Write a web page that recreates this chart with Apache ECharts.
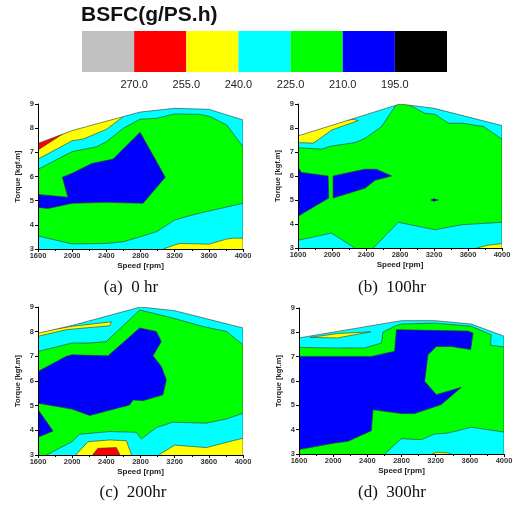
<!DOCTYPE html>
<html><head><meta charset="utf-8">
<script src="https://cdn.jsdelivr.net/npm/echarts@6/dist/echarts.min.js"></script>
<style>html,body{margin:0;padding:0;background:#fff}#c{width:513px;height:505px}</style>
</head><body><div id="c"></div>
<script>
// ---- legend ----
const LEG_COLORS = ['#c0c0c0', '#ff0000', '#ffff00', '#00ffff', '#00ff00', '#0000ff', '#000000'];
const LEG_TICKS = ['270.0', '255.0', '240.0', '225.0', '210.0', '195.0'];
const SPEED_TICKS = [1600, 2000, 2400, 2800, 3200, 3600, 4000];
const TORQUE_TICKS = [3, 4, 5, 6, 7, 8, 9];
const CAPTIONS = ['(a)  0 hr', '(b)  100hr', '(c)  200hr', '(d)  300hr'];

// ---- (a) 0 hr : contour boundaries [speed rpm, torque kgf.m] ----
const A_TOP = [[1600,7.37],[2000,7.9],[2600,8.48],[2800,8.67],[3200,8.82],[3600,8.78],[4000,8.34]];
const A_GREEN = [[1500,6.3],[1600,6.3],[2000,7.03],[2285,7.23],[2400,7.44],[2600,8.0],[2795,8.37],[2990,8.41],[3200,8.59],[3500,8.57],[3615,8.48],[3810,8.13],[4000,7.23],[4100,7.23],[4100,4.89],[4000,4.89],[3600,4.57],[3400,4.4],[3200,4.2],[2990,3.72],[2800,3.51],[2600,3.3],[2400,3.23],[2000,3.21],[1600,3.54],[1500,3.54]];
const A_BLUE = [[1500,5.26],[1600,5.26],[1950,5.14],[1885,5.97],[2000,6.13],[2230,6.54],[2480,6.72],[2795,7.83],[3090,5.97],[2830,4.89],[2400,4.93],[2000,4.89],[1720,4.68],[1600,4.72],[1500,4.72]];
const A_YELLOW_TOP = [[1500,6.72],[1600,6.72],[2000,7.48],[2130,7.55],[2400,7.95],[2600,8.48],[2650,9.6],[1500,9.6]];
const A_RED = [[1500,7.1],[1600,7.1],[1935,7.86],[1935,9.6],[1500,9.6]];
const A_YELLOW_BOT = [[3068,2.9],[3068,3.0],[3200,3.17],[3260,3.23],[3600,3.2],[3820,3.42],[3900,3.45],[4100,3.45],[4100,2.9]];

// ---- (b) 100 hr ----
const B_TOP = [[1600,7.67],[2800,9.0],[3200,8.82],[4000,8.1]];
const B_GREEN = [[1500,7.18],[1600,7.18],[1875,7.12],[1993,7.25],[2270,7.39],[2390,7.57],[2583,8.06],[2780,9.1],[2830,9.1],[3095,8.61],[3213,8.57],[3370,8.2],[3528,8.2],[3783,8.06],[4000,7.53],[4100,7.53],[4100,4.07],[4000,4.07],[3528,3.97],[3213,3.76],[2780,4.07],[2485,3.0],[2485,2.9],[2269,2.9],[2269,3.0],[1993,3.62],[1600,3.32],[1500,3.32]];
const B_BLUE_1 = [[1500,6.37],[1600,6.37],[1640,6.15],[1954,6.0],[1962,5.08],[1600,4.32],[1500,4.32]];
const B_BLUE_2 = [[2013,6.0],[2300,6.22],[2387,6.28],[2524,6.28],[2701,6.0],[2505,5.82],[2387,5.49],[2013,5.08]];
const B_BLUE_3 = [[3160,5.0],[3200,5.05],[3250,5.0],[3200,4.95]];
const B_YELLOW_TOP = [[1500,7.39],[1600,7.39],[1780,7.37],[2000,7.92],[2310,8.31],[2250,8.36],[2000,8.25],[1500,8.25]];
const B_YELLOW_BOT = [[3700,2.9],[3700,3.0],[3840,3.12],[4000,3.18],[4100,3.18],[4100,2.9]];

// ---- (c) 200 hr ----
const C_TOP = [[1600,7.94],[2000,8.25],[2800,9.0],[3200,8.85],[3600,8.5],[4000,8.15]];
const C_GREEN = [[1500,7.2],[1600,7.2],[2000,7.54],[2205,7.54],[2400,7.6],[2790,8.88],[3180,8.55],[3531,8.21],[3805,8.01],[4000,7.47],[4100,7.47],[4100,4.69],[4000,4.69],[3805,4.46],[3570,4.29],[3180,4.33],[2985,4.11],[2810,3.65],[2751,3.92],[2439,3.95],[2088,3.84],[1998,3.54],[1700,3.0],[1700,2.9],[1500,2.9]];
const C_BLUE_1 = [[1500,6.39],[1600,6.39],[1932,7.0],[1998,7.06],[2420,7.02],[2790,8.15],[2985,8.01],[3044,7.6],[2946,7.02],[3044,6.59],[3102,6.05],[3063,5.44],[2829,5.2],[2712,5.23],[2673,5.03],[2205,4.6],[1998,4.86],[1600,5.1],[1500,5.1]];
const C_BLUE_2 = [[1500,4.84],[1600,4.84],[1776,3.97],[1600,3.72],[1500,3.72]];
const C_YELLOW_TOP = [[1500,7.81],[1600,7.81],[1930,8.08],[2440,8.24],[2460,8.4],[2000,8.22],[1600,7.98],[1500,7.98]];
const C_YELLOW_BOT1 = [[2049,2.9],[2049,3.03],[2185,3.54],[2439,3.61],[2634,3.58],[2693,3.03],[2693,2.9]];
const C_RED = [[2244,2.9],[2244,3.03],[2302,3.27],[2517,3.3],[2556,3.03],[2556,2.9]];
const C_YELLOW_BOT2 = [[3024,2.9],[3024,3.03],[3200,3.4],[3570,3.3],[3805,3.51],[4000,3.68],[4100,3.68],[4100,2.9]];

// ---- (d) 300 hr ----
const D_TOP = [[1600,7.77],[2800,8.48],[3190,8.48],[3617,8.34],[4000,7.84]];
const D_GREEN = [[1500,7.38],[1600,7.38],[1940,7.36],[2370,7.36],[2565,7.56],[2583,8.01],[2720,8.25],[2800,8.34],[3190,8.38],[3617,8.25],[3850,7.9],[3843,7.47],[4000,7.4],[4100,7.4],[4100,3.9],[4000,3.9],[3617,4.1],[3344,3.86],[3188,3.82],[3032,3.59],[2798,3.63],[2603,3.0],[2603,2.9],[1500,2.9]];
const D_BLUE = [[1500,7.01],[1600,7.01],[2447,7.01],[2720,7.22],[2740,8.11],[3578,8.05],[3637,7.97],[3610,7.29],[3383,7.42],[3208,7.42],[3110,7.08],[3071,5.99],[3208,5.44],[3500,5.74],[3266,5.03],[2954,4.66],[2798,4.66],[2466,4.82],[2447,3.96],[2174,3.52],[2018,3.45],[1600,3.18],[1500,3.18]];
const D_YELLOW_TOP = [[1730,7.79],[2050,7.77],[2440,8.02],[2050,7.95]];
const D_YELLOW_BOT = [[3150,2.9],[3150,3.0],[3220,3.07],[3350,3.04],[3420,2.95],[3420,2.9]];

const CYAN = '#00ffff', GREEN = '#00ff00', BLUE = '#0000ff', YELLOW = '#ffff00', RED = '#ff0000';
const FULL = [[1500,2.8],[4100,2.8],[4100,9.7],[1500,9.7]];
function mask(top){
  const pts = [[1500, top[0][1]]].concat(top);
  pts.push([4000,3],[4100,3],[4100,9.7],[1500,9.7]);
  return pts;
}
const PANELS = [
  [[FULL,CYAN],[A_GREEN,GREEN],[A_BLUE,BLUE],[A_YELLOW_TOP,YELLOW],[A_RED,RED],[A_YELLOW_BOT,YELLOW],[mask(A_TOP),'#ffffff']],
  [[FULL,CYAN],[B_GREEN,GREEN],[B_BLUE_1,BLUE],[B_BLUE_2,BLUE],[B_BLUE_3,BLUE],[B_YELLOW_TOP,YELLOW],[B_YELLOW_BOT,YELLOW],[mask(B_TOP),'#ffffff']],
  [[FULL,CYAN],[C_GREEN,GREEN],[C_BLUE_1,BLUE],[C_BLUE_2,BLUE],[C_YELLOW_TOP,YELLOW],[C_YELLOW_BOT1,YELLOW],[C_RED,RED],[C_YELLOW_BOT2,YELLOW],[mask(C_TOP),'#ffffff']],
  [[FULL,CYAN],[D_GREEN,GREEN],[D_BLUE,BLUE],[D_YELLOW_TOP,YELLOW],[D_YELLOW_BOT,YELLOW],[mask(D_TOP),'#ffffff']]
];

const GRIDS = [
  {left:38, top:104, width:205, height:145},
  {left:298, top:104, width:204, height:144},
  {left:38, top:307, width:205, height:148},
  {left:299, top:308, width:205, height:146},
  {left:82, top:31, width:365, height:41}
];
const CAP_POS = [[131,288],[392,288],[133,493],[392,493]];

const chart = echarts.init(document.getElementById('c'), null, {renderer:'canvas'});
const xAxes = [], yAxes = [], series = [];
for (let i = 0; i < 4; i++) {
  xAxes.push({
    gridIndex:i, type:'value', min:SPEED_TICKS[0], max:SPEED_TICKS[SPEED_TICKS.length-1], interval:400,
    name:'Speed [rpm]', nameLocation:'middle', nameGap:13,
    nameTextStyle:{fontSize:8, fontWeight:'bold', color:'#222', fontFamily:'Liberation Sans'},
    axisLine:{lineStyle:{color:'#000', width:1}}, axisTick:{length:3, lineStyle:{color:'#000'}},
    minorTick:{show:true, splitNumber:2, length:2, lineStyle:{color:'#000'}},
    axisLabel:{fontSize:7.5, color:'#333', fontWeight:'bold', margin:3, fontFamily:'Liberation Sans',
      formatter:function(v){return String(v);}},
    splitLine:{show:false}, z:10
  });
  yAxes.push({
    gridIndex:i, type:'value', min:TORQUE_TICKS[0], max:TORQUE_TICKS[TORQUE_TICKS.length-1], interval:1,
    name:'Torque [kgf.m]', nameLocation:'middle', nameGap:16, nameRotate:90,
    nameTextStyle:{fontSize:7.5, fontWeight:'bold', color:'#222', fontFamily:'Liberation Sans'},
    axisLine:{show:true, lineStyle:{color:'#000', width:1}}, axisTick:{show:true, length:3, lineStyle:{color:'#000'}},
    axisLabel:{fontSize:7.5, color:'#333', fontWeight:'bold', margin:4, fontFamily:'Liberation Sans'},
    splitLine:{show:false}, z:10
  });
  const layers = PANELS[i];
  series.push({
    type:'custom', coordinateSystem:'cartesian2d', xAxisIndex:i, yAxisIndex:i, clip:true, silent:true,
    data: layers.map((l,k)=>[k]),
    renderItem: function(params, api){
      const L = layers[params.dataIndex];
      return {type:'polygon', shape:{points: L[0].map(p=>api.coord(p))},
        style:{fill:L[1], stroke:'#333', lineWidth:0.6}};
    }
  });
}
// legend colour bar
xAxes.push({gridIndex:4, type:'value', min:0, max:7, interval:1,
  axisLine:{show:false}, axisTick:{show:false}, splitLine:{show:false},
  axisLabel:{fontSize:11, color:'#222', margin:7, fontFamily:'Liberation Sans',
    formatter:function(v){const i=Math.round(v); return (i>=1&&i<=6)?LEG_TICKS[i-1]:'';}}});
yAxes.push({gridIndex:4, type:'value', min:0, max:1, show:false});
series.push({
  type:'custom', coordinateSystem:'cartesian2d', xAxisIndex:4, yAxisIndex:4, silent:true,
  data: LEG_COLORS.map((c,k)=>[k]),
  renderItem: function(params, api){
    const k = params.dataIndex;
    const p0 = api.coord([k,1]), p1 = api.coord([k+1,0]);
    return {type:'rect', shape:{x:p0[0], y:p0[1], width:p1[0]-p0[0], height:p1[1]-p0[1]},
      style:{fill:LEG_COLORS[k]}};
  }
});

const graphics = [{type:'text', left:81, top:5, style:{text:'BSFC(g/PS.h)', font:'bold 21px "Liberation Sans", Arial', fill:'#111'}}];
CAPTIONS.forEach((t,i)=>{
  graphics.push({type:'text', x:CAP_POS[i][0], y:CAP_POS[i][1],
    style:{text:t, font:'17px "Liberation Serif", "Times New Roman", serif', fill:'#111', textAlign:'center', textVerticalAlign:'middle'}});
});

chart.setOption({
  animation:false,
  grid: GRIDS.map(g=>Object.assign({containLabel:false, outerBoundsMode:'none'}, g)),
  xAxis: xAxes, yAxis: yAxes, series: series, graphic: graphics
});
</script></body></html>
